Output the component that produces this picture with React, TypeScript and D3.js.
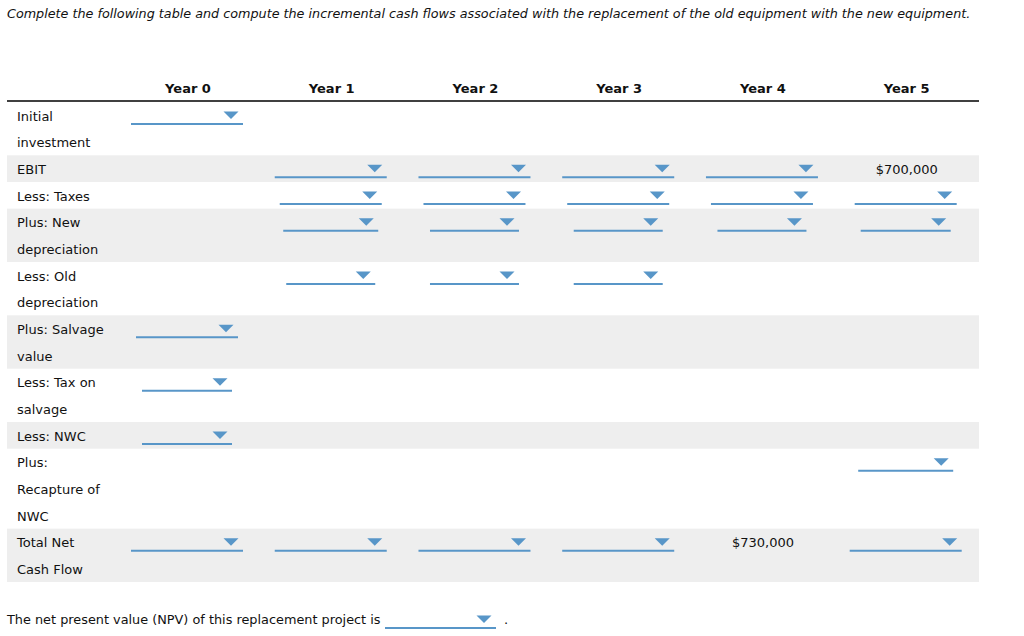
import React from "react";
import * as d3 from "d3";

const title =
  "Complete the following table and compute the incremental cash flows associated with the replacement of the old equipment with the new equipment.";
const years = ["Year 0", "Year 1", "Year 2", "Year 3", "Year 4", "Year 5"];
const rowLabels: string[][] = [
  ["Initial", "investment"],
  ["EBIT"],
  ["Less: Taxes"],
  ["Plus: New", "depreciation"],
  ["Less: Old", "depreciation"],
  ["Plus: Salvage", "value"],
  ["Less: Tax on", "salvage"],
  ["Less: NWC"],
  ["Plus:", "Recapture of", "NWC"],
  ["Total Net", "Cash Flow"],
];
// "dd" = dropdown, "" = empty, other = given value
const rowCells: string[][] = [
  ["dd", "", "", "", "", ""],
  ["", "dd", "dd", "dd", "dd", "$700,000"],
  ["", "dd", "dd", "dd", "dd", "dd"],
  ["", "dd", "dd", "dd", "dd", "dd"],
  ["", "dd", "dd", "dd", "", ""],
  ["dd", "", "", "", "", ""],
  ["dd", "", "", "", "", ""],
  ["dd", "", "", "", "", ""],
  ["", "", "", "", "", "dd"],
  ["dd", "dd", "dd", "dd", "$730,000", "dd"],
];
const npvText = "The net present value (NPV) of this replacement project is";

// layout (sizes) kept separate from the content
const ddWidths: number[][] = [
  [112, 0, 0, 0, 0, 0],
  [0, 112, 112, 112, 112, 0],
  [0, 102, 102, 102, 102, 102],
  [0, 95, 89, 89, 89, 90],
  [0, 89, 89, 89, 0, 0],
  [102, 0, 0, 0, 0, 0],
  [90, 0, 0, 0, 0, 0],
  [90, 0, 0, 0, 0, 0],
  [0, 0, 0, 0, 0, 95],
  [112, 112, 112, 112, 0, 112],
];

const FONT = "'DejaVu Sans', Verdana, sans-serif";
const BLUE = "#5896c8";
const GRAY = "#eeeeee";
const TEXT = "#111";

function Dropdown({ cx, y, w }: { cx: number; y: number; w: number }) {
  const x0 = cx - w / 2;
  const x1 = cx + w / 2;
  const tri = d3.path();
  tri.moveTo(x1 - 19.5, y - 12.5);
  tri.lineTo(x1 - 4.5, y - 12.5);
  tri.lineTo(x1 - 12, y - 5);
  tri.closePath();
  return (
    <g>
      <line x1={x0} x2={x1} y1={y} y2={y} stroke={BLUE} strokeWidth={2} />
      <path d={tri.toString()} fill={BLUE} />
    </g>
  );
}

export default function App() {
  const W = 1024;
  const H = 636;
  const totalLines = d3.sum(rowLabels, (r) => r.length);
  const yLine = d3.scaleLinear().domain([0, totalLines]).range([102, 582]);
  const xCol = d3.scalePoint<string>().domain(years).range([187, 905.7]);
  const starts = d3.cumsum([0, ...rowLabels.map((r) => r.length)]);

  return (
    <svg
      width={W}
      height={H}
      style={{ position: "absolute", left: 0, top: 0, fontFamily: FONT }}
    >
      <rect x={0} y={0} width={W} height={H} fill="#fff" />
      <text x={7} y={17.5} fontSize={12.75} fontStyle="italic" fill={TEXT}>
        {title}
      </text>
      {years.map((yr) => (
        <text
          key={yr}
          x={xCol(yr)! + 1}
          y={92.5}
          fontSize={13}
          fontWeight="bold"
          textAnchor="middle"
          fill={TEXT}
        >
          {yr}
        </text>
      ))}
      {rowLabels.map((lines, i) => {
        const top = yLine(starts[i]);
        const bottom = yLine(starts[i] + lines.length);
        return (
          <g key={i}>
            {i % 2 === 1 && (
              <rect x={7} y={top} width={972} height={bottom - top} fill={GRAY} />
            )}
            {lines.map((ln, j) => (
              <text
                key={j}
                x={17}
                y={yLine(starts[i] + j) + 18.5}
                fontSize={13}
                fill={TEXT}
              >
                {ln}
              </text>
            ))}
            {rowCells[i].map((c, k) => {
              const cx = xCol(years[k])!;
              if (c === "dd")
                return <Dropdown key={k} cx={cx} y={top + 22} w={ddWidths[i][k]} />;
              if (c)
                return (
                  <text
                    key={k}
                    x={cx + 1}
                    y={top + 18.5}
                    fontSize={13}
                    textAnchor="middle"
                    fill={TEXT}
                  >
                    {c}
                  </text>
                );
              return null;
            })}
          </g>
        );
      })}
      <line x1={7} x2={979} y1={101} y2={101} stroke="#000" strokeWidth={1.5} />
      <text x={7} y={624} fontSize={12.85} fill={TEXT}>
        {npvText}
      </text>
      <Dropdown cx={440.5} y={628} w={111} />
      <text x={504} y={624} fontSize={13} fill={TEXT}>
        .
      </text>
    </svg>
  );
}
